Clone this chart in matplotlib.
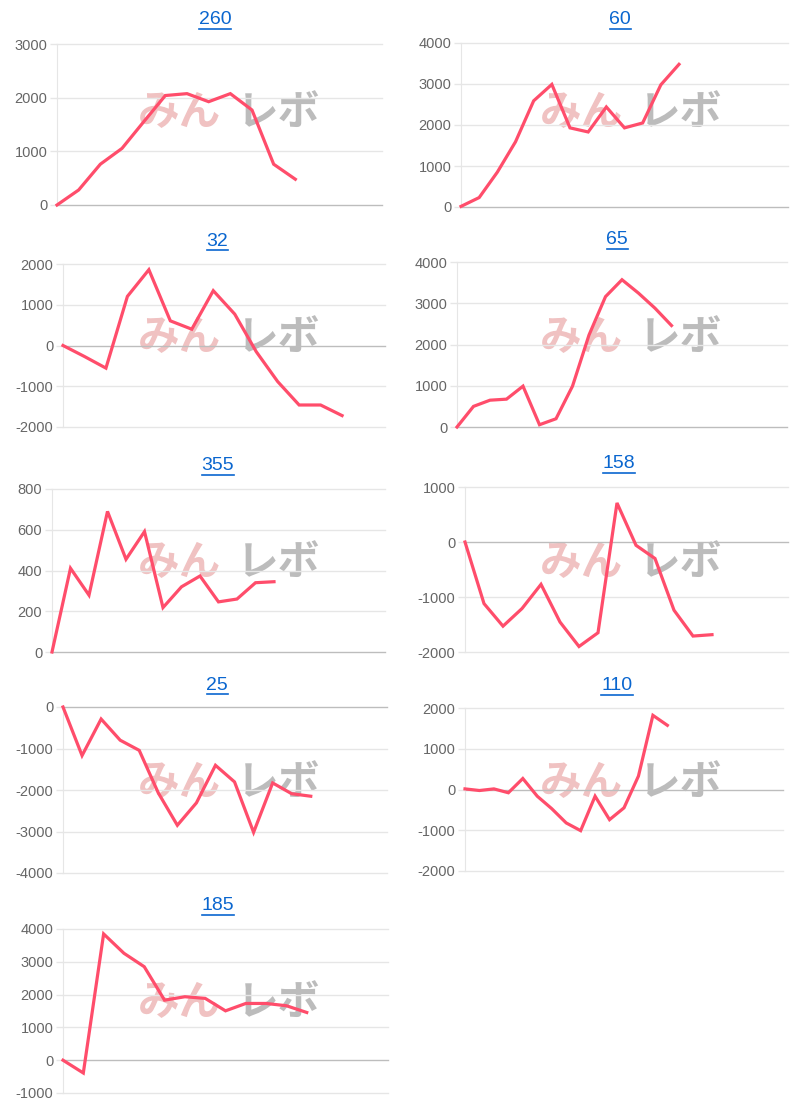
import numpy as np
from matplotlib import pyplot as plt
from matplotlib.lines import Line2D

plt.rcParams['font.family'] = ['Liberation Sans', 'DejaVu Sans']

titles = ['260', '60', '32', '65', '355', '158', '25', '110', '185']

# number of x categories per chart (the line covers only the first part)
n_labels = [16, 19, 16, 21, 19, 18, 18, 23, 17]

s260 = [0, 280, 760, 1055, 1550, 2040, 2075, 1925, 2075, 1770, 760, 480]
s60 = [15, 230, 850, 1590, 2590, 2990, 1930, 1830, 2440, 1930, 2050, 2980, 3480]
s32 = [0, -270, -555, 1205, 1860, 605, 400, 1345, 770, -150, -885, -1460, -1460, -1720]
s65 = [0, 500, 650, 675, 990, 55, 200, 990, 2230, 3160, 3570, 3245, 2880, 2460]
s355 = [0, 411, 279, 690, 455, 591, 218, 320, 373, 246, 260, 340, 345]
s158 = [0, -1120, -1530, -1210, -770, -1455, -1900, -1650, 710, -60, -300, -1240, -1710, -1685]
s25 = [0, -1170, -290, -800, -1045, -2070, -2850, -2310, -1405, -1805, -3020, -1830, -2090, -2150]
s110 = [15, -25, 15, -80, 270, -165, -470, -820, -1010, -165, -740, -450, 330, 1820, 1575]
s185 = [0, -390, 3850, 3260, 2850, 1830, 1935, 1885, 1505, 1730, 1730, 1660, 1455]
series = [s260, s60, s32, s65, s355, s158, s25, s110, s185]

y_ticks = [
    [0, 1000, 2000, 3000],
    [0, 1000, 2000, 3000, 4000],
    [-2000, -1000, 0, 1000, 2000],
    [0, 1000, 2000, 3000, 4000],
    [0, 200, 400, 600, 800],
    [-2000, -1000, 0, 1000],
    [-4000, -3000, -2000, -1000, 0],
    [-2000, -1000, 0, 1000, 2000],
    [-1000, 0, 1000, 2000, 3000, 4000],
]

W, H = 800, 1106
# axes boxes in pixels: left, right, top, bottom
boxes = [
    (57, 382, 44, 205),
    (461, 788, 43, 207),
    (63, 385, 264, 427),
    (457, 787, 262, 427),
    (52, 385, 489, 652),
    (465, 788, 487, 652),
    (63, 387, 707, 873),
    (465, 783, 708, 871),
    (63, 388, 929, 1093),
]
title_pos = [(215, 20), (620, 20), (217, 241), (617, 240), (218, 466),
             (619, 464), (217, 685), (617, 686), (218, 906)]
panel_top = [0, 0, 225, 225, 450, 450, 670, 670, 890]

line_color = '#ff4d6b'
grid_color = '#e6e6e6'
zero_color = '#bdbdbd'
title_color = '#0a66cf'
jp = ['Noto Sans CJK JP', 'DejaVu Sans']

fig = plt.figure(figsize=(W / 100, H / 100), dpi=100)

for i in range(9):
    l, r, t, b = boxes[i]
    ax = fig.add_axes([l / W, 1 - b / H, (r - l) / W, (b - t) / H])
    ticks = y_ticks[i]
    ax.set_ylim(ticks[0], ticks[-1])
    ax.set_xlim(0, n_labels[i] - 1)
    ax.set_yticks(ticks)
    ax.set_yticklabels([str(v) for v in ticks])
    ax.set_xticks([])
    ax.tick_params(axis='y', length=5, width=1, color=grid_color,
                   labelcolor='#666666', labelsize=10.5, pad=2)
    for s in ['top', 'right', 'bottom']:
        ax.spines[s].set_visible(False)
    ax.spines['left'].set_color(grid_color)
    for v in ticks:
        c = zero_color if v == 0 else grid_color
        ax.axhline(v, color=c, lw=1, zorder=1, clip_on=False)

    # watermark (behind the axes)
    col_x = 138 if l < 300 else 540
    ty = panel_top[i] + 113
    fig.text(col_x / W, 1 - ty / H, 'みん', color='#f0c2c2',
             fontsize=30, fontweight='bold', va='center', ha='left',
             family=jp, zorder=-1)
    fig.text((col_x + 99) / W, 1 - ty / H, 'レボ', color='#bcbcbc',
             fontsize=30, fontweight='bold', va='center', ha='left',
             family=jp, zorder=-1)

    ys = series[i]
    ax.plot(np.arange(len(ys)), ys, color=line_color, lw=2.3, zorder=3,
            solid_joinstyle='miter', clip_on=False)
    ax.patch.set_alpha(0)

    # title with underline
    tx, tyy = title_pos[i]
    fig.text(tx / W, 1 - tyy / H, titles[i], color=title_color,
             fontsize=14, ha='center', va='center')
    uw = 10.5 * len(titles[i])
    fig.add_artist(Line2D([(tx - uw / 2) / W, (tx + uw / 2) / W],
                          [1 - (tyy + 9) / H, 1 - (tyy + 9) / H],
                          color=title_color, lw=1.2))

fig.savefig('out.png', dpi=100)
